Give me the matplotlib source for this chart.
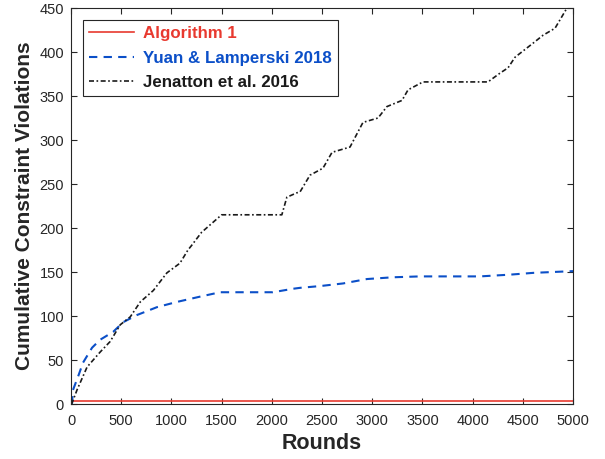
import matplotlib
matplotlib.use("Agg")
import matplotlib.pyplot as plt

plt.rcParams['font.family'] = ['Liberation Sans', 'DejaVu Sans']

alg1_x = [0, 5000]
alg1_y = [3, 3]

yuan_x = [0, 10, 20, 70, 120, 210, 290, 420, 520, 655, 855, 1055, 1285, 1485, 2010, 2215,
          2281, 2480, 2710, 2948, 3207, 3476, 4073, 4373, 4602, 5000]
yuan_y = [0, 1, 16, 31, 47, 64, 73, 82, 93, 101, 110, 116, 122, 127, 127, 131,
          132, 134, 137, 142, 144, 145, 145, 147, 149, 151]

jen_x = [0, 10, 60, 160, 290, 390, 490, 590, 690, 820, 955, 1085, 1165, 1200, 1300, 1400, 1500,
         2100, 2150, 2250, 2281, 2380, 2510, 2600, 2779, 2908, 3058, 3147, 3297, 3357, 3506,
         4153, 4273, 4353, 4422, 4602, 4701, 4821, 4940, 5000]
jen_y = [0, 1, 16, 42, 59, 71, 90, 99, 116, 129, 149, 160, 175, 180, 195, 205, 215,
         215, 235, 240, 241, 260, 268, 286, 292, 320, 325, 338, 345, 357, 366,
         366, 376, 382, 394, 410, 419, 427, 450, 460]

labels = ['Algorithm 1', 'Yuan & Lamperski 2018', 'Jenatton et al. 2016']
colors = ['#e8392f', '#0b4fc8', '#1a1a1a']

fig = plt.figure(figsize=(6.05, 4.59), dpi=100)
ax = fig.add_axes([71/605, 55/459, 502/605, 396/459])

ax.plot(alg1_x, alg1_y, '-', color=colors[0], lw=1.2, label=labels[0])
ax.plot(yuan_x, yuan_y, '--', color=colors[1], lw=1.5, label=labels[1], dashes=(4, 3))
ax.plot(jen_x, jen_y, '-.', color=colors[2], lw=1.2, label=labels[2], dashes=(3, 1.5, 1, 1.5))

ax.set_xlim(0, 5000)
ax.set_ylim(0, 450)
ax.set_xticks(range(0, 5001, 500))
ax.set_yticks(range(0, 451, 50))
ax.tick_params(direction='in', top=True, right=True, labelsize=10.5, colors='#262626', length=4)
ax.tick_params(axis='x', pad=7)
ax.tick_params(axis='y', pad=5)
for s in ax.spines.values():
    s.set_color('#262626')
    s.set_linewidth(0.8)

ax.set_xlabel('Rounds', fontsize=15.5, fontweight='bold', color='#262626', labelpad=4)
ax.set_ylabel('Cumulative Constraint Violations', fontsize=15, fontweight='bold', color='#262626', labelpad=4)

leg = ax.legend(loc='upper left', bbox_to_anchor=(0.024, 0.97), borderaxespad=0, fancybox=False,
                edgecolor='#262626', prop={'weight': 'bold', 'size': 12.2}, handlelength=2.6,
                borderpad=0.38, labelspacing=0.55, handletextpad=0.55, framealpha=1)
leg.get_frame().set_linewidth(0.8)
for t, c in zip(leg.get_texts(), colors):
    t.set_color(c)

fig.savefig('out.png', dpi=100)
